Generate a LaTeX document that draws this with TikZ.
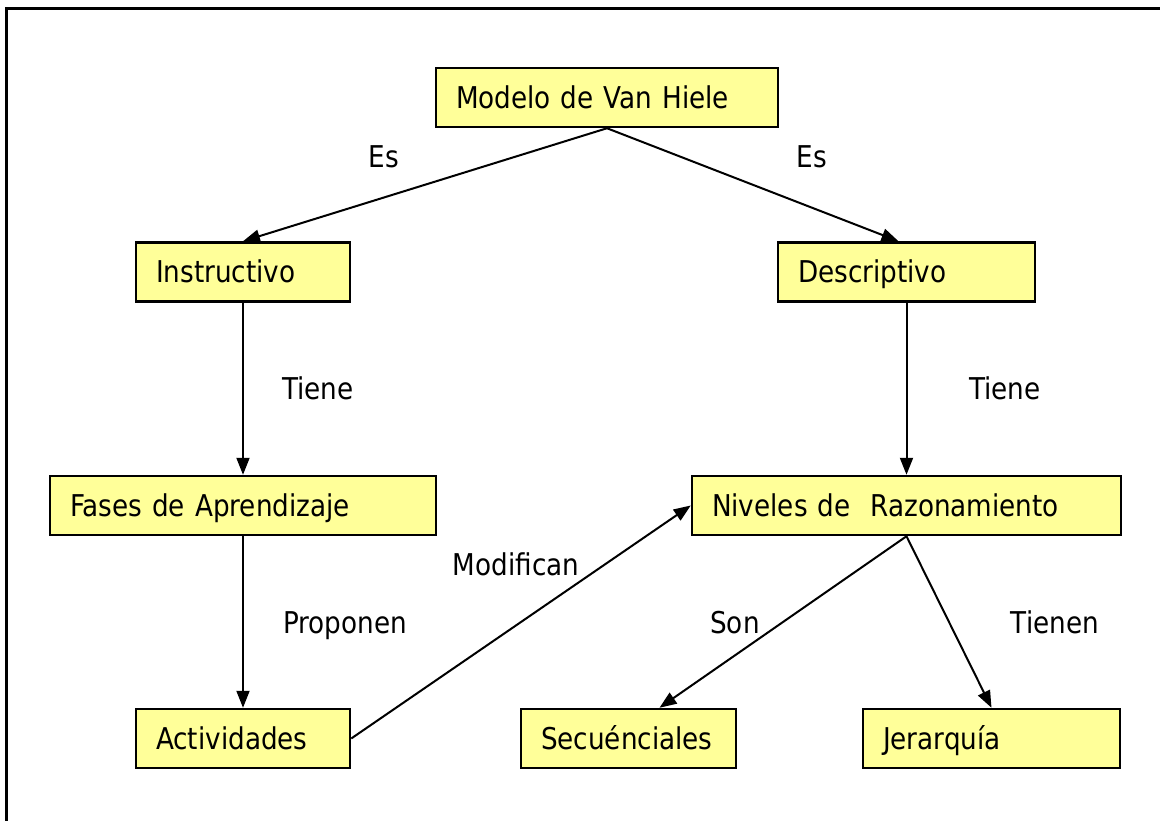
\documentclass[tikz,border=0pt]{standalone}
\usepackage{fontspec}
\setmainfont{DejaVu Sans}[FakeStretch=0.875]
\usetikzlibrary{arrows.meta}
\definecolor{boxyellow}{HTML}{FFFF99}
\begin{document}
\begin{tikzpicture}[x=1pt,y=-1pt,
  every node/.style={font=\fontsize{30}{36}\selectfont},
  box/.style={draw, line width=2.5pt, fill=boxyellow, minimum height=59pt,
    inner xsep=20pt, inner ysep=0pt, align=left, text height=21.8pt, text depth=0pt},
  lbl/.style={anchor=base},
  conn/.style={line width=2pt, -{Triangle[length=17pt,width=13pt]}}]
\useasboundingbox (0,0) rectangle (1160,821);
\draw[line width=3pt] (6,840) -- (6,9) -- (1180,9);

\node[box, text width=302pt] (M) at (607,97.5) {Modelo de Van Hiele};
\node[box, text width=174pt] (I) at (243,272) {Instructivo};
\node[box, text width=217pt] (D) at (906.5,272) {Descriptivo};
\node[box, text width=346pt] (F) at (243,505.5) {Fases de Aprendizaje};
\node[box, text width=389pt] (N) at (906.5,505.5) {Niveles de~ Razonamiento};
\node[box, text width=174pt] (A) at (243,738.5) {Actividades};
\node[box, text width=175pt] (S) at (628.5,738.5) {Secuénciales};
\node[box, text width=217pt] (J) at (991.5,738.5) {Jerarquía};

\draw[conn] (M.south) -- (I.north);
\draw[conn] (M.south) -- ([xshift=-8pt]D.north);
\draw[conn] (I.south) -- (F.north);
\draw[conn] (D.south) -- (N.north);
\draw[conn] (F.south) -- (A.north);
\draw[conn] (A.east) -- (N.west);
\draw[conn] (N.south) -- ([xshift=31pt]S.north);
\draw[conn] (N.south) -- (J.north);

\node[lbl] (l1) at (384,168) {Es};
\node[lbl] (l2) at (812,168) {Es};
\node[lbl] (l3) at (318,399) {Tiene};
\node[lbl] (l4) at (1005,399) {Tiene};
\node[lbl] (l5) at (345,633) {Proponen};
\node[lbl] (l6) at (516,575) {Modifican};
\node[lbl] (l7) at (735,633) {Son};
\node[lbl] (l8) at (1055,633) {Tienen};
\end{tikzpicture}
\end{document}
